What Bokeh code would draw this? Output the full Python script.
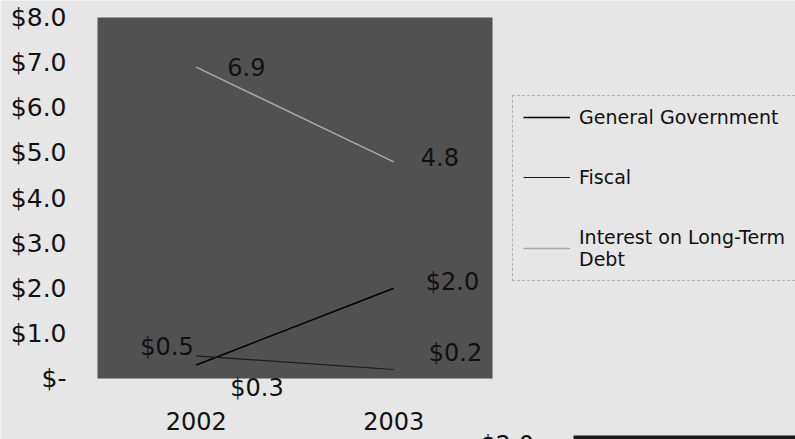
from bokeh.plotting import figure
from bokeh.models import (Range1d, FixedTicker, Legend, LegendItem, LinearAxis,
                          Label, BoxAnnotation, ColumnDataSource)
from bokeh.embed import file_html
from bokeh.resources import INLINE
from bokeh.core.properties import value

# Debt service components, millions of dollars
years = ["2002", "2003"]
general_government = [0.3, 2.0]
fiscal = [0.5, 0.2]
interest_long_term = [6.9, 4.8]

y_ticks = [0, 1, 2, 3, 4, 5, 6, 7, 8]
y_tick_labels = ["$-", "$1.0", "$2.0", "$3.0", "$4.0", "$5.0", "$6.0", "$7.0", "$8.0"]

W, H = 795, 439
# pixel box of the shaded plot area on the page
AREA_L, AREA_R, AREA_T, AREA_B = 97, 492, 17, 378

FONT = "DejaVu Sans"
PAGE = "#e6e6e6"
PLOT = "#515151"
INK = "#111111"

xs = [int(y) for y in years]
x_lo, x_hi = xs[0] - 0.5, xs[-1] + 0.5          # category bands
y_lo, y_hi = y_ticks[0], y_ticks[-1]

# the frame spans the whole page so labels may spill past the shaded area
xppu = (AREA_R - AREA_L) / (x_hi - x_lo)
yppu = (AREA_B - AREA_T) / (y_hi - y_lo)
x_range = Range1d(x_lo - AREA_L / xppu, x_lo + (W - AREA_L) / xppu)
y_range = Range1d(y_lo - (H - AREA_B) / yppu, y_hi + AREA_T / yppu)

p = figure(
    width=W, height=H, x_range=x_range, y_range=y_range,
    output_backend="svg", toolbar_location=None,
    x_axis_type=None, y_axis_type=None,
    min_border=0, background_fill_color=PAGE, border_fill_color=PAGE,
    outline_line_color=None,
)
p.grid.visible = False

# shaded plot area
p.quad(left=[x_lo], right=[x_hi], bottom=[y_lo], top=[y_hi],
       fill_color=PLOT, line_color=None)

yaxis = LinearAxis(fixed_location=x_lo, ticker=FixedTicker(ticks=y_ticks),
                   major_label_overrides={t: s for t, s in zip(y_ticks, y_tick_labels)})
xaxis = LinearAxis(fixed_location=y_lo, ticker=FixedTicker(ticks=xs),
                   major_label_overrides={x: s for x, s in zip(xs, years)})
for ax in (xaxis, yaxis):
    ax.axis_line_color = None
    ax.major_tick_line_color = None
    ax.minor_tick_line_color = None
    ax.major_label_text_font = FONT
    ax.major_label_text_color = INK
yaxis.major_label_text_font_size = "25px"
xaxis.major_label_text_font_size = "24px"
yaxis.major_label_standoff = 25
xaxis.major_label_standoff = 27
p.add_layout(yaxis, "left")
p.add_layout(xaxis, "below")

gg = p.line(xs, general_government, line_color="#000000", line_width=1.5)
fi = p.line(xs, fiscal, line_color="#1c1c1c", line_width=1.2)
it = p.line(xs, interest_long_term, line_color="#a9a9a9", line_width=1.5)


def data_labels(vals, texts, xoffs, yoffs):
    src = ColumnDataSource(dict(x=xs, y=vals, t=texts, xo=xoffs, yo=yoffs))
    p.text(x="x", y="y", text="t", x_offset="xo", y_offset="yo", source=src,
           text_font=value(FONT), text_font_size="24px", text_color=INK,
           text_align="left", text_baseline="middle")


data_labels(interest_long_term, [f"{v:.1f}" for v in interest_long_term], [31, 27], [0, -5])
data_labels(general_government, [f"${v:.1f}" for v in general_government], [34, 32], [23, -6])
data_labels(fiscal, [f"${v:.1f}" for v in fiscal], [-56, 35], [-9, -16])

legend = Legend(
    items=[
        LegendItem(label="General Government", renderers=[gg]),
        LegendItem(label="Fiscal", renderers=[fi]),
        LegendItem(label="Interest on Long-Term\nDebt", renderers=[it]),
    ],
    location=(512, 158),
    orientation="vertical",
    label_text_font=FONT, label_text_font_size="19px", label_text_color=INK,
    glyph_width=47, label_standoff=9, label_width=240,
    spacing=38, padding=10, margin=0,
    background_fill_alpha=0,
    border_line_color="#808080", border_line_dash="2 2", border_line_width=1,
)
p.add_layout(legend)

# top edge of the next chart further down the page
p.add_layout(Label(x=480, y=9, x_units="screen", y_units="screen", text="$2.0",
                   text_font=FONT, text_font_size="24px", text_color=INK,
                   text_baseline="top"))
p.add_layout(BoxAnnotation(left=573, right=W + 10, top=4, bottom=-10,
                           left_units="screen", right_units="screen",
                           top_units="screen", bottom_units="screen",
                           fill_color="#1a1a1a", fill_alpha=1, line_color=None))

open("out.html", "w").write(file_html(p, INLINE))
